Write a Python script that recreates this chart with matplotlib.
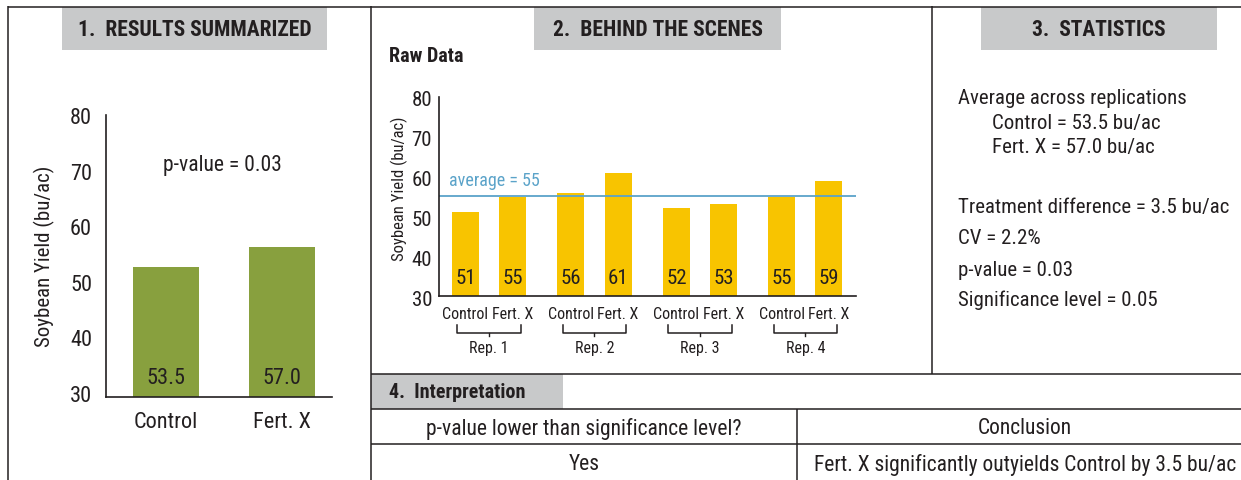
import matplotlib
matplotlib.use("Agg")
import matplotlib.pyplot as plt
from matplotlib.lines import Line2D
from matplotlib.patches import Rectangle
from matplotlib import font_manager
import matplotlib.transforms as mtransforms

# ---------------- data ----------------
summary_categories = ["Control", "Fert. X"]
summary_values = [53.5, 57.0]
summary_labels = ["53.5", "57.0"]
p_value_text = "p-value = 0.03"

rep_names = ["Rep. 1", "Rep. 2", "Rep. 3", "Rep. 4"]
treatments = ["Control", "Fert. X"]
control_values = [51, 56, 52, 55]
fert_values = [55, 61, 53, 59]
average_value = 55

yticks = [30, 40, 50, 60, 70, 80]

stats_lines = [
    "Average across replications",
    "Control = 53.5 bu/ac",
    "Fert. X = 57.0 bu/ac",
    "Treatment difference = 3.5 bu/ac",
    "CV = 2.2%",
    "p-value = 0.03",
    "Significance level = 0.05",
]
table_header = ["p-value lower than significance level?", "Conclusion"]
table_row = ["Yes", "Fert. X significantly outyields Control by 3.5 bu/ac"]

# ---------------- font ----------------
prefs = ["Roboto Condensed", "Liberation Sans Narrow", "Archivo Narrow", "Barlow Semi Condensed",
         "Asap Condensed", "Barlow Condensed"]
FAM = "DejaVu Sans"
for name in prefs:
    ws = {f.weight for f in font_manager.fontManager.ttflist if f.name == name and f.style == "normal"}
    if 400 in ws and 700 in ws:
        FAM = name
        break
plt.rcParams["font.family"] = [FAM, "DejaVu Sans"]
plt.rcParams["font.stretch"] = "condensed" if FAM != "DejaVu Sans" else "normal"

GREEN = "#88A03E"
YELLOW = "#F8C400"
BLUE = "#5BA3C9"
GRAY = "#C8C9CA"
INK = "#231F20"

W, H = 1241, 480
fig = plt.figure(figsize=(W / 100, H / 100), dpi=100)
fig.patch.set_facecolor("white")


def fx(x):
    return x / W


def fy(y):
    return 1 - y / H


def hline(y, x0, x1, lw=1.1):
    fig.add_artist(Line2D([fx(x0), fx(x1)], [fy(y), fy(y)], transform=fig.transFigure,
                          color=INK, lw=lw, solid_capstyle="butt"))


def vline(x, y0, y1, lw=1.1):
    fig.add_artist(Line2D([fx(x), fx(x)], [fy(y0), fy(y1)], transform=fig.transFigure,
                          color=INK, lw=lw, solid_capstyle="butt"))


def box(x0, y0, x1, y1):
    fig.add_artist(Rectangle((fx(x0), fy(y1)), fx(x1) - fx(x0), fy(y0) - fy(y1),
                             transform=fig.transFigure, facecolor=GRAY, edgecolor="none", zorder=0))


def ftext(x, y, s, **kw):
    kw.setdefault("color", INK)
    fig.text(fx(x), fy(y), s, **kw)


# gray header boxes
box(62, 7, 327, 50)
box(534, 7, 781, 50)
box(981, 7, 1217, 50)
box(371, 374, 563, 409)

# frame lines
hline(6.5, 8, W)
vline(8, 6, H)
vline(371, 6, H)
vline(932, 6, 374)
hline(374, 371, W)
hline(409, 371, W)
hline(444, 371, W)
vline(797, 409, H)

# headers
ftext(194.5, 29.5, "1.  RESULTS SUMMARIZED", ha="center", va="center", fontsize=15.5, fontweight="bold")
ftext(657.5, 29.5, "2.  BEHIND THE SCENES", ha="center", va="center", fontsize=15.5, fontweight="bold")
ftext(1099, 29.5, "3.  STATISTICS", ha="center", va="center", fontsize=15.5, fontweight="bold")
ftext(389, 392, "4.  Interpretation", ha="left", va="center", fontsize=14.5, fontweight="bold")
ftext(389, 56, "Raw Data", ha="left", va="center", fontsize=14.5, fontweight="bold")

# ---------------- panel 1 ----------------
ax1 = fig.add_axes([fx(106), fy(397), fx(332) - fx(106), (397 - 115) / H])
x1 = list(range(len(summary_categories)))
ax1.bar(x1, [v - 30 for v in summary_values], bottom=30, width=0.57, color=GREEN)
ax1.set_xlim(-0.517, 1.431)
ax1.set_ylim(30, 80.8)
ax1.set_yticks(yticks)
ax1.set_xticks(x1)
ax1.set_xticklabels(summary_categories)
ax1.tick_params(axis="both", length=0, labelsize=16, colors=INK)
ax1.tick_params(axis="y", pad=10)
ax1.tick_params(axis="x", pad=11)
for sp in ["top", "right"]:
    ax1.spines[sp].set_visible(False)
for sp in ["left", "bottom"]:
    ax1.spines[sp].set_color(INK)
    ax1.spines[sp].set_linewidth(1.2)
shift = mtransforms.ScaledTranslation(0, 3 / 100, fig.dpi_scale_trans)
for lab in ax1.get_yticklabels():
    lab.set_transform(lab.get_transform() + shift)
for xi, lab in zip(x1, summary_labels):
    ax1.annotate(lab, xy=(xi, 30), xytext=(0, 19), textcoords="offset pixels",
                 ha="center", va="center", fontsize=16, color=INK)
ftext(222, 165, p_value_text, ha="center", va="center", fontsize=15.5)
ftext(44, 256, "Soybean Yield (bu/ac)", ha="center", va="center", rotation=90, fontsize=15)

# ---------------- panel 2 ----------------
ax2 = fig.add_axes([fx(439), fy(296), fx(856) - fx(439), (296 - 97) / H])
groups = list(range(len(rep_names)))
off = 0.223
bw = 0.256
ax2.bar([g - off for g in groups], [v - 30 for v in control_values], bottom=30, width=bw, color=YELLOW)
ax2.bar([g + off for g in groups], [v - 30 for v in fert_values], bottom=30, width=bw, color=YELLOW)
ax2.axhline(average_value, color=BLUE, lw=1.3)
ax2.set_xlim(-0.474, 3.479)
ax2.set_ylim(30, 80)
ax2.set_yticks(yticks)
pos = []
labs = []
for g in groups:
    pos += [g - off, g + off]
    labs += treatments
ax2.set_xticks(pos)
ax2.set_xticklabels(labs)
ax2.tick_params(axis="both", length=0, colors=INK)
ax2.tick_params(axis="y", labelsize=15, pad=5)
ax2.tick_params(axis="x", labelsize=11.5, pad=8)
for sp in ["top", "right"]:
    ax2.spines[sp].set_visible(False)
for sp in ["left", "bottom"]:
    ax2.spines[sp].set_color(INK)
    ax2.spines[sp].set_linewidth(1.2)
shift2 = mtransforms.ScaledTranslation(0, -2 / 100, fig.dpi_scale_trans)
for lab in ax2.get_yticklabels():
    lab.set_transform(lab.get_transform() + shift2)
for g, c, f in zip(groups, control_values, fert_values):
    ax2.annotate(str(c), xy=(g - off, 30), xytext=(0, 17), textcoords="offset pixels",
                 ha="center", va="center", fontsize=15, color=INK)
    ax2.annotate(str(f), xy=(g + off, 30), xytext=(0, 17), textcoords="offset pixels",
                 ha="center", va="center", fontsize=15, color=INK)
ax2.annotate(f"average = {average_value}", xy=(-0.474, average_value), xytext=(10, 16),
             textcoords="offset pixels", ha="left", va="center", fontsize=13, color=BLUE)

# brackets under each replication
trans = ax2.get_xaxis_transform()
ah = 296 - 97


def ay(ypix):
    return -(ypix - 296) / ah


half = 0.303
for g, name in zip(groups, rep_names):
    ax2.add_line(Line2D([g - half, g - half, g + half, g + half], [ay(325), ay(333), ay(333), ay(325)],
                        transform=trans, color=INK, lw=1.1, clip_on=False))
    ax2.add_line(Line2D([g, g], [ay(333), ay(336)], transform=trans, color=INK, lw=1.0, clip_on=False))
    ax2.text(g, ay(348), name, transform=trans, ha="center", va="center", fontsize=11.5, color=INK)
ftext(399, 189, "Soybean Yield (bu/ac)", ha="center", va="center", rotation=90, fontsize=12)

# ---------------- panel 3 ----------------
stat_x = [958, 992, 992, 958, 958, 958, 958]
stat_y = [98, 123, 148, 207, 239, 270, 300]
for x, y, s in zip(stat_x, stat_y, stats_lines):
    ftext(x, y, s, ha="left", va="center", fontsize=15)

# ---------------- panel 4 table ----------------
ftext(584, 429, table_header[0], ha="center", va="center", fontsize=15.5)
ftext(1025, 429, table_header[1], ha="center", va="center", fontsize=15.5)
ftext(584, 465, table_row[0], ha="center", va="center", fontsize=15.5)
ftext(1025, 465, table_row[1], ha="center", va="center", fontsize=15.5)

fig.savefig("out.png", dpi=100)
